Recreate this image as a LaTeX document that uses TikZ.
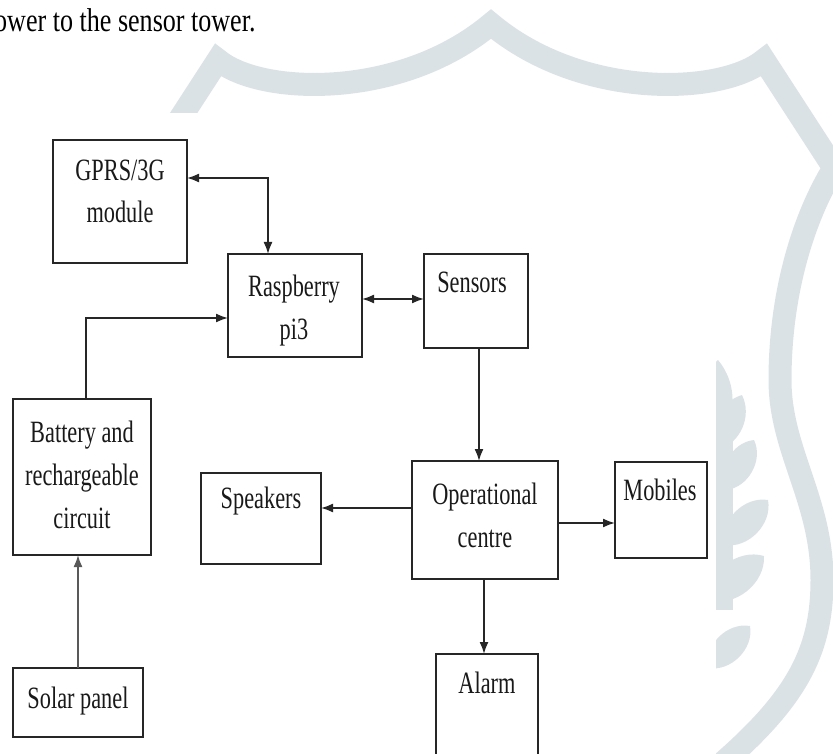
\documentclass[tikz,border=0pt]{standalone}
\usepackage{fontspec}
\setmainfont{Liberation Serif}
\newfontfamily\lblfont{Liberation Serif}[FakeStretch=0.72]
\newfontfamily\topfont{Liberation Serif}[FakeStretch=0.79]
\usetikzlibrary{arrows.meta,fit}
\definecolor{wm}{RGB}{219,226,230}
\begin{document}
\begin{tikzpicture}[x=1pt,y=-1pt,
  box/.style={draw=black!85, line width=1.8pt, inner sep=0pt, outer sep=0pt},
  lbl/.style={font=\lblfont\fontsize{31}{43}\selectfont, align=center, anchor=base, inner sep=0pt, text=black!90},
  arr/.style={-{Latex[length=12pt,width=9pt]}, line width=1.7pt, draw=black!85},
  dbl/.style={{Latex[length=12pt,width=9pt]}-{Latex[length=12pt,width=9pt]}, line width=1.7pt, draw=black!85},
  leaf/.style={fill=wm}]
\useasboundingbox (0,0) rectangle (833,754);
\clip (0,0) rectangle (833,754);
\fill[white] (0,0) rectangle (833,754);
% watermark shield
\draw[wm, line width=23pt, line join=miter, miter limit=10]
  (148,168) -- (218,60)
  .. controls (260,95) and (400,100) .. (491,24)
  .. controls (582,100) and (722,95) .. (764,60)
  -- (834,168)
  .. controls (805,215) and (780,290) .. (780,380)
  .. controls (780,450) and (822,500) .. (822,580)
  .. controls (822,660) and (790,710) .. (690,790);
% watermark leaves
\fill[leaf] (710,448) to[bend left=45] (718,360) to[bend left=45] (710,448);
\fill[leaf] (718,450) to[bend right=50] (742,395) to[bend right=50] (718,450);
\fill[leaf] (712,440) rectangle (733,610);
\fill[leaf] (726,490) to[bend right=55] (754,440) to[bend right=55] (726,490);
\fill[leaf] (724,545) to[bend right=55] (768,500) to[bend right=55] (724,545);
\fill[leaf] (708,600) to[bend right=55] (764,556) to[bend right=55] (708,600);
\fill[leaf] (708,668) to[bend right=55] (750,626) to[bend right=55] (708,668);
% diagram area
\fill[white] (0,113) rectangle (716,754);
% text above
\node[font=\topfont\fontsize{33}{40}\selectfont, anchor=base west, inner sep=0pt] (toptext) at (-6,32) {ower to the sensor tower.};
% boxes
\node[box, fit={(53,140) (187,263)}] (gprs) {};
\node[box, fit={(228,254) (362,357)}] (rpi) {};
\node[box, fit={(424,254) (528,348)}] (sens) {};
\node[box, fit={(13,399) (151,555)}] (batt) {};
\node[box, fit={(13,668) (143,737)}] (solar) {};
\node[box, fit={(201,473) (321,564)}] (spk) {};
\node[box, fit={(412,461) (558,579)}] (oc) {};
\node[box, fit={(615,462) (707,558)}] (mob) {};
\node[box, fit={(436,654) (538,790)}] (alarm) {};
% labels (base = baseline of the last line)
\node[lbl] (tgprs) at (120,223) {GPRS/3G\\module};
\node[lbl] (trpi) at (294,339) {Raspberry\\pi3};
\node[lbl] (tsens) at (472,293) {Sensors};
\node[lbl] (tbatt) at (82,528) {Battery and\\rechargeable\\circuit};
\node[lbl] (tsolar) at (78,708) {Solar panel};
\node[lbl] (tspk) at (261,508) {Speakers};
\node[lbl] (toc) at (485,547) {Operational\\centre};
\node[lbl] (tmob) at (660,500) {Mobiles};
\node[lbl] (talarm) at (487,693) {Alarm};
% connectors
\draw[dbl] (gprs.east |- 0,178) -| (268,0 |- rpi.north);
\draw[arr] (86,0 |- batt.north) |- (rpi.west |- 0,318);
\draw[dbl] (rpi.east |- 0,299) -- (sens.west |- 0,299);
\draw[arr] (479,0 |- sens.south) -- (479,0 |- oc.north);
\draw[arr] (oc.west |- 0,508) -- (spk.east |- 0,508);
\draw[arr] (oc.east |- 0,523) -- (mob.west |- 0,523);
\draw[arr] (484,0 |- oc.south) -- (484,0 |- alarm.north);
\draw[arr, draw=black!65] (solar.north) -- (solar.north |- batt.south);
\end{tikzpicture}
\end{document}
